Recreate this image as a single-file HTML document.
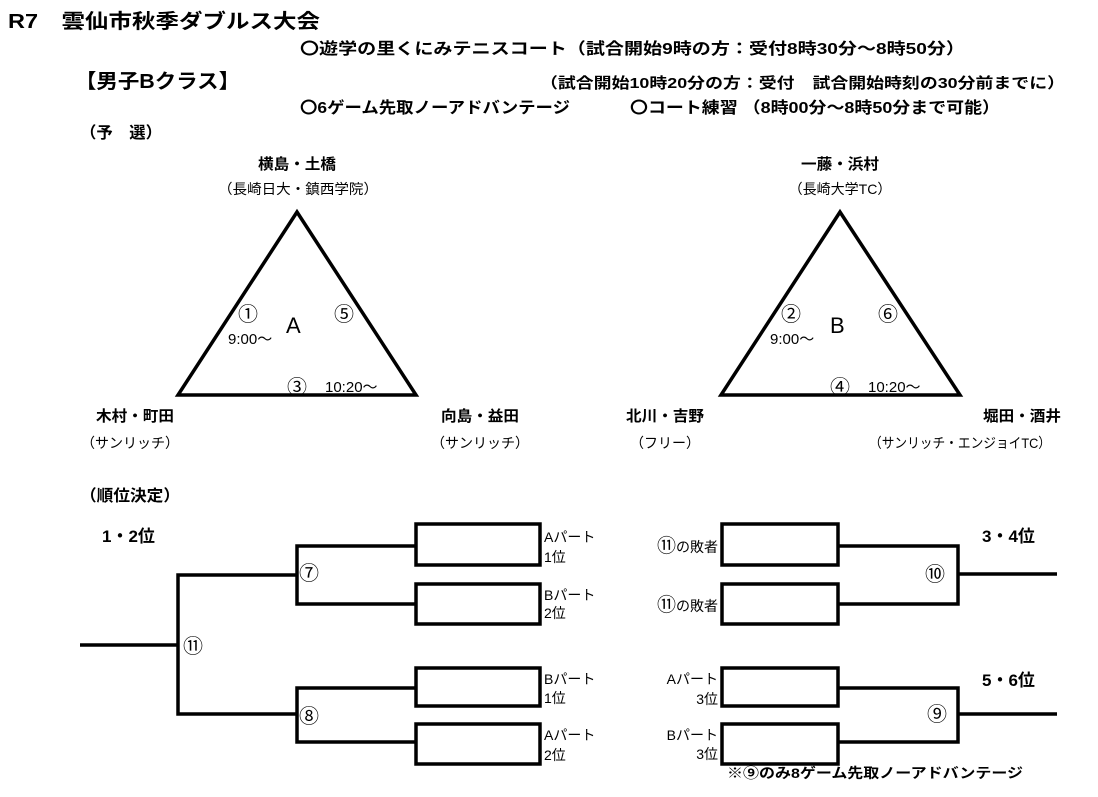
<!DOCTYPE html>
<html><head><meta charset="utf-8"><style>
html,body{margin:0;padding:0;background:#fff}
svg{display:block}
text{font-family:"Liberation Sans","Noto Sans CJK JP",sans-serif;fill:#000}
.b{font-weight:bold}
</style></head><body>
<svg width="1098" height="797" viewBox="0 0 1098 797" xmlns="http://www.w3.org/2000/svg">
<text x="8" y="28" font-size="20" class="b" textLength="312" lengthAdjust="spacingAndGlyphs">R7　雲仙市秋季ダブルス大会</text>
<text x="300" y="54" font-size="16" class="b" textLength="665" lengthAdjust="spacingAndGlyphs">〇遊学の里くにみテニスコート（試合開始9時の方：受付8時30分～8時50分）</text>
<text x="75" y="88" font-size="20" class="b" textLength="165" lengthAdjust="spacingAndGlyphs">【男子Bクラス】</text>
<text x="540" y="88" font-size="15" class="b" textLength="525" lengthAdjust="spacingAndGlyphs">（試合開始10時20分の方：受付　試合開始時刻の30分前までに）</text>
<text x="300" y="113" font-size="16" class="b" textLength="270" lengthAdjust="spacingAndGlyphs">〇6ゲーム先取ノーアドバンテージ</text>
<text x="630" y="113" font-size="16" class="b" textLength="370" lengthAdjust="spacingAndGlyphs">〇コート練習 （8時00分～8時50分まで可能）</text>
<text x="80" y="138" font-size="16" class="b" textLength="82" lengthAdjust="spacingAndGlyphs">（予　選）</text>

<g font-size="15" text-anchor="middle">
<text x="297" y="169" class="b" textLength="78" lengthAdjust="spacingAndGlyphs">横島・土橋</text>
<text x="298" y="194" font-size="14" textLength="160" lengthAdjust="spacingAndGlyphs">（長崎日大・鎮西学院）</text>
<text x="840" y="169" class="b" textLength="78" lengthAdjust="spacingAndGlyphs">一藤・浜村</text>
<text x="840" y="194" font-size="14">（長崎大学TC）</text>
<text x="135" y="421" class="b" textLength="78" lengthAdjust="spacingAndGlyphs">木村・町田</text>
<text x="130" y="448" font-size="14">（サンリッチ）</text>
<text x="480" y="421" class="b" textLength="78" lengthAdjust="spacingAndGlyphs">向島・益田</text>
<text x="480" y="448" font-size="14">（サンリッチ）</text>
<text x="665" y="421" class="b" textLength="78" lengthAdjust="spacingAndGlyphs">北川・吉野</text>
<text x="665" y="448" font-size="14">（フリー）</text>
<text x="1022" y="421" class="b" textLength="78" lengthAdjust="spacingAndGlyphs">堀田・酒井</text>
<text x="960" y="448" font-size="14" textLength="182" lengthAdjust="spacingAndGlyphs">（サンリッチ・エンジョイTC）</text>
</g>

<g fill="none" stroke="#000" stroke-width="3.5" stroke-linejoin="miter">
<polygon points="297,212 178,395 416,395"/>
<polygon points="840,212 721,395 960,395"/>
</g>
<g font-size="20">
<text x="238" y="321">①</text><text x="334" y="321">⑤</text>
<text x="228" y="344" font-size="15">9:00～</text>
<text x="286" y="333" font-size="22">A</text>
<text x="287" y="394">③</text><text x="325" y="392" font-size="15">10:20～</text>
<text x="781" y="321">②</text><text x="878" y="321">⑥</text>
<text x="770" y="344" font-size="15">9:00～</text>
<text x="830" y="333" font-size="22">B</text>
<text x="830" y="394">④</text><text x="868" y="392" font-size="15">10:20～</text>
</g>

<text x="80" y="501" font-size="16" class="b" textLength="100" lengthAdjust="spacingAndGlyphs">（順位決定）</text>
<text x="102" y="542" font-size="17" class="b">1・2位</text>
<text x="982" y="542" font-size="17" class="b">3・4位</text>
<text x="982" y="686" font-size="17" class="b">5・6位</text>

<g fill="none" stroke="#000" stroke-width="3.5">
<rect x="416" y="524" width="124" height="41"/>
<rect x="416" y="584" width="124" height="40"/>
<rect x="416" y="668" width="124" height="38"/>
<rect x="416" y="724" width="124" height="40"/>
<polyline points="415,546 297,546 297,604 415,604"/>
<polyline points="415,688 297,688 297,742 415,742"/>
<polyline points="297,575 178,575 178,714 297,714"/>
<line x1="80" y1="645" x2="178" y2="645"/>

<rect x="722" y="524" width="116" height="41"/>
<rect x="722" y="584" width="116" height="40"/>
<rect x="722" y="668" width="116" height="38"/>
<rect x="722" y="724" width="116" height="40"/>
<polyline points="839,546 958,546 958,604 839,604"/>
<polyline points="839,688 958,688 958,742 839,742"/>
<line x1="958" y1="574" x2="1057" y2="574"/>
<line x1="958" y1="714" x2="1057" y2="714"/>
</g>

<g font-size="20">
<text x="183" y="653">⑪</text>
<text x="299" y="580">⑦</text>
<text x="299" y="723">⑧</text>
<text x="925" y="581">⑩</text>
<text x="927" y="721">⑨</text>
</g>
<g font-size="14">
<text x="544" y="542">Aパート</text><text x="544" y="562">1位</text>
<text x="544" y="600">Bパート</text><text x="544" y="618">2位</text>
<text x="544" y="684">Bパート</text><text x="544" y="703">1位</text>
<text x="544" y="740">Aパート</text><text x="544" y="760">2位</text>
</g>
<g font-size="14" text-anchor="end">
<text x="718" y="552"><tspan font-size="19">⑪</tspan>の敗者</text>
<text x="718" y="611"><tspan font-size="19">⑪</tspan>の敗者</text>
<text x="718" y="684">Aパート</text><text x="718" y="704">3位</text>
<text x="718" y="740">Bパート</text><text x="718" y="759">3位</text>
</g>
<text x="727" y="778" font-size="14" class="b" textLength="296" lengthAdjust="spacingAndGlyphs">※⑨のみ8ゲーム先取ノーアドバンテージ</text>
</svg>
</body></html>
